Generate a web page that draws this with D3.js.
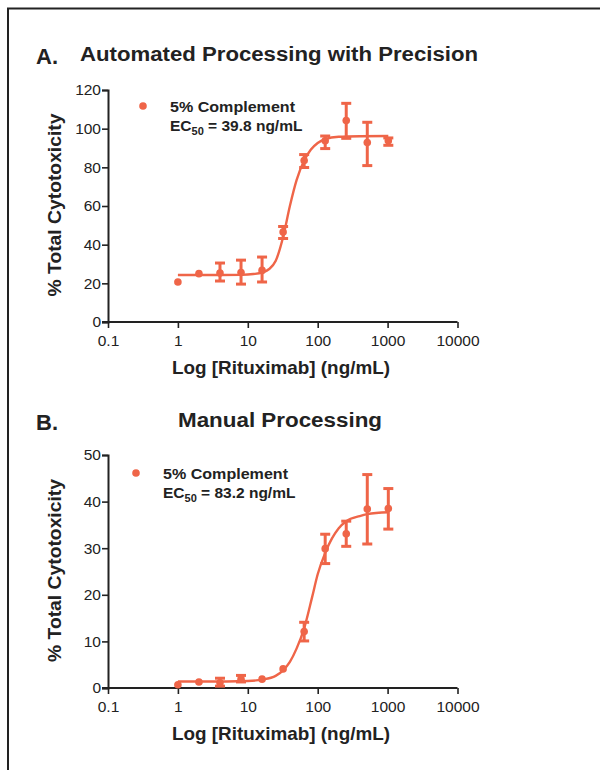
<!DOCTYPE html>
<html>
<head>
<meta charset="utf-8">
<script src="https://cdn.jsdelivr.net/npm/d3@7"></script>
<style>
  body { margin: 0; background: #fff; }
  svg { display: block; font-family: "Liberation Sans", Arial, sans-serif; }
</style>
</head>
<body>
<svg id="chart" width="600" height="770"></svg>
<script>
// concentrations (ng/mL), doubling series
const conc = [1, 2, 4, 8, 16, 32, 64, 128, 256, 512, 1024];

// panel A: automated processing
const aMean = [20.7, 25.0, 25.3, 25.6, 26.7, 46.5, 83.5, 93.7, 104.2, 92.8, 93.7];
const aHigh = [null, null, 30.5, 32.0, 33.6, 49.4, 86.6, 96.2, 113.1, 103.3, 95.2];
const aLow  = [null, null, 21.2, 19.6, 20.7, 43.2, 79.9, 89.7, 95.0, 80.9, 91.4];
// fitted curve
const aCurveX = [1, 4, 8, 12, 16, 20, 25, 32, 40, 50, 64, 80, 100, 128, 200, 400, 1024];
const aCurveY = [24.3, 24.3, 24.4, 24.8, 25.6, 27.3, 31.5, 44.0, 60.0, 73.5, 83.5, 89.2, 92.6, 94.6, 95.8, 96.1, 96.2];

// panel B: manual processing
const bMean = [0.7, 1.3, 1.1, 1.9, 1.9, 4.1, 12.1, 29.9, 33.1, 38.4, 38.5];
const bHigh = [null, null, 2.1, 2.7, null, null, 14.1, 33.0, 35.8, 45.8, 42.8];
const bLow  = [null, null, 0.4, 1.3, null, null, 10.1, 26.7, 30.4, 30.9, 34.1];
const bCurveX = [1, 5, 10, 16, 25, 32, 40, 50, 64, 83.2, 100, 128, 160, 200, 256, 400, 512, 1024];
const bCurveY = [1.4, 1.4, 1.5, 1.8, 2.6, 3.8, 5.6, 8.5, 12.8, 19.5, 24.4, 29.0, 32.1, 34.3, 35.8, 36.9, 37.3, 37.7];

// axis ticks
const xTicks = [0.1, 1, 10, 100, 1000, 10000];
const aYTicks = [0, 20, 40, 60, 80, 100, 120];
const bYTicks = [0, 10, 20, 30, 40, 50];

const color = "#ef6548";
const svg = d3.select("#chart");

// frame: only top and left edges are visible
svg.append("path")
    .attr("d", "M8,780V8.5H600")
    .attr("fill", "none").attr("stroke", "#222").attr("stroke-width", 2);

function drawPanel(opt) {
    const x = d3.scaleLog().domain([0.1, 10000]).range([108, 457.5]);
    const y = d3.scaleLinear().domain([0, opt.yMax]).range([opt.bottom, opt.top]);
    const g = svg.append("g");

    // x axis
    const xAxis = g.append("g")
        .attr("transform", `translate(0,${opt.bottom})`)
        .call(d3.axisBottom(x).tickValues(xTicks).tickFormat(d => String(d)).tickSizeOuter(0).tickSize(6));
    // y axis
    const yAxis = g.append("g")
        .attr("transform", `translate(108,0)`)
        .call(d3.axisLeft(y).tickValues(opt.yTicks).tickSizeOuter(0).tickSize(6));

    [xAxis, yAxis].forEach(ax => {
        ax.select(".domain").attr("stroke", "#222").attr("stroke-width", 2);
        ax.selectAll(".tick line").attr("stroke", "#222").attr("stroke-width", 1.6);
        ax.selectAll(".tick text")
            .attr("fill", "#222")
            .style("font-size", "15.5px")
            .style("font-family", "'Liberation Sans', Arial, sans-serif");
    });
    xAxis.selectAll(".tick text").attr("dy", "0.95em");
    yAxis.selectAll(".tick text").attr("x", -7);
    // x axis line starts a little left of the y axis
    xAxis.select(".domain").attr("d", `M102,0H${x(10000)}`);

    // axis titles
    g.append("text")
        .attr("x", 281).attr("y", opt.bottom + 52)
        .attr("text-anchor", "middle")
        .attr("fill", "#222")
        .attr("textLength", 218).attr("lengthAdjust", "spacingAndGlyphs")
        .style("font-size", "18.5px").style("font-weight", "bold")
        .text("Log [Rituximab] (ng/mL)");
    g.append("text")
        .attr("transform", `translate(61,${(opt.top + opt.bottom) / 2 - 1}) rotate(-90)`)
        .attr("text-anchor", "middle")
        .attr("fill", "#222")
        .attr("textLength", 183).attr("lengthAdjust", "spacingAndGlyphs")
        .style("font-size", "18.5px").style("font-weight", "bold")
        .text("% Total Cytotoxicity");

    // panel titles
    svg.append("text")
        .attr("x", 36).attr("y", opt.titleY + 3)
        .attr("fill", "#222")
        .style("font-size", "22px").style("font-weight", "bold")
        .text(opt.letter);
    svg.append("text")
        .attr("x", opt.titleX).attr("y", opt.titleY)
        .attr("text-anchor", "middle")
        .attr("fill", "#222")
        .attr("textLength", opt.titleW).attr("lengthAdjust", "spacingAndGlyphs")
        .style("font-size", "20px").style("font-weight", "bold")
        .text(opt.title);

    // fitted curve
    const curve = opt.curveX.map((c, i) => [c, opt.curveY[i]]);
    g.append("path")
        .datum(curve)
        .attr("fill", "none")
        .attr("stroke", color)
        .attr("stroke-width", 2.4)
        .attr("d", d3.line().x(d => x(d[0])).y(d => y(d[1])).curve(d3.curveMonotoneX));

    // error bars
    const pts = conc.map((c, i) => ({ c, m: opt.mean[i], hi: opt.high[i], lo: opt.low[i] }));
    const eb = g.selectAll(".err").data(pts.filter(d => d.hi != null)).enter().append("g")
        .attr("stroke", color).attr("stroke-width", 3);
    eb.append("line")
        .attr("x1", d => x(d.c)).attr("x2", d => x(d.c))
        .attr("y1", d => y(d.hi)).attr("y2", d => y(d.lo));
    eb.append("line")
        .attr("x1", d => x(d.c) - 5).attr("x2", d => x(d.c) + 5)
        .attr("y1", d => y(d.hi)).attr("y2", d => y(d.hi));
    eb.append("line")
        .attr("x1", d => x(d.c) - 5).attr("x2", d => x(d.c) + 5)
        .attr("y1", d => y(d.lo)).attr("y2", d => y(d.lo));

    // points
    g.selectAll(".pt").data(pts).enter().append("circle")
        .attr("cx", d => x(d.c)).attr("cy", d => y(d.m))
        .attr("r", 3.8).attr("fill", color);

    // legend
    const lg = g.append("g").attr("transform", `translate(${opt.legX},${opt.legY})`);
    lg.append("circle").attr("cx", 0).attr("cy", 0).attr("r", 3.8).attr("fill", color);
    lg.append("text")
        .attr("x", 27).attr("y", 6)
        .attr("fill", "#222")
        .attr("textLength", 125).attr("lengthAdjust", "spacingAndGlyphs")
        .style("font-size", "15.5px").style("font-weight", "bold")
        .text("5% Complement");
    const t2 = lg.append("text")
        .attr("x", 27).attr("y", 25)
        .attr("fill", "#222")
        .style("font-size", "15.5px").style("font-weight", "bold");
    t2.append("tspan").text("EC");
    t2.append("tspan").attr("dy", 4).style("font-size", "11px").text("50");
    t2.append("tspan").attr("dy", -4).text(` = ${opt.ec50} ng/mL`);
}

drawPanel({
    letter: "A.", title: "Automated Processing with Precision",
    titleX: 279, titleY: 61, titleW: 398,
    top: 90, bottom: 322, yMax: 120, yTicks: aYTicks,
    mean: aMean, high: aHigh, low: aLow,
    curveX: aCurveX, curveY: aCurveY,
    legX: 143, legY: 106, ec50: "39.8"
});

drawPanel({
    letter: "B.", title: "Manual Processing",
    titleX: 280, titleY: 427, titleW: 204,
    top: 455, bottom: 688, yMax: 50, yTicks: bYTicks,
    mean: bMean, high: bHigh, low: bLow,
    curveX: bCurveX, curveY: bCurveY,
    legX: 136, legY: 473, ec50: "83.2"
});
</script>
</body>
</html>
